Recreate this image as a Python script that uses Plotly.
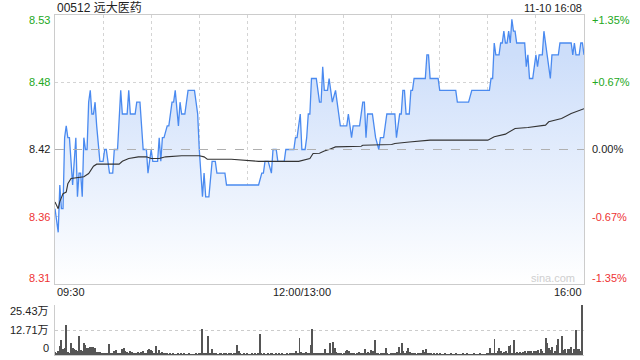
import plotly.graph_objects as go

# ---------------- data ----------------
prev_close = 8.42
title_text = "00512 远大医药"
stamp_text = "11-10 16:08"

price_min = [0, 2, 3, 4, 5, 6, 7, 8, 9, 11, 13, 14, 15, 16, 17, 18, 19, 20, 21, 22, 23, 24, 25, 26, 28, 30,
             31, 32, 34, 36, 37, 39, 41, 42, 45, 46, 47, 50, 51, 53, 54, 55, 57, 58, 60, 61, 64, 65, 66, 67,
             68, 70, 71, 73, 74, 75, 77, 78, 79, 81, 83, 87, 89, 90, 92, 93, 94, 96, 98, 100, 101, 106, 107,
             127, 129, 130, 131, 133, 135, 136, 138, 139, 143, 144, 149, 150, 151, 152, 153, 154, 156, 157,
             158, 159, 160, 163, 165, 166, 167, 168, 170, 171, 172, 173, 175, 176, 178, 182, 183, 185, 186,
             190, 192, 193, 194, 195, 198, 200, 202, 203, 205, 207, 212, 213, 215, 216, 217, 218, 219, 221,
             222, 223, 224, 231, 232, 233, 234, 239, 240, 250, 251, 258, 260, 271, 272, 273, 274, 275, 277,
             278, 279, 280, 281, 282, 283, 284, 285, 286, 287, 288, 293, 294, 295, 296, 298, 299, 300, 301,
             302, 304, 305, 307, 309, 310, 314, 315, 322, 323, 324, 325, 327, 328, 329, 330]
price_val = [8.37, 8.35, 8.39, 8.37, 8.37, 8.43, 8.44, 8.43, 8.43, 8.39, 8.43, 8.38, 8.40, 8.40, 8.38, 8.43,
             8.42, 8.42, 8.46, 8.47, 8.45, 8.45, 8.46, 8.44, 8.41, 8.41, 8.42, 8.42, 8.40, 8.40, 8.42, 8.42,
             8.47, 8.45, 8.45, 8.47, 8.45, 8.45, 8.46, 8.46, 8.44, 8.42, 8.42, 8.40, 8.42, 8.41, 8.41, 8.43,
             8.41, 8.43, 8.43, 8.44, 8.44, 8.46, 8.46, 8.47, 8.44, 8.46, 8.45, 8.45, 8.47, 8.47, 8.45, 8.42,
             8.38, 8.40, 8.38, 8.38, 8.41, 8.41, 8.40, 8.40, 8.39, 8.39, 8.40, 8.40, 8.41, 8.41, 8.40, 8.42,
             8.42, 8.41, 8.41, 8.42, 8.42, 8.43, 8.43, 8.44, 8.45, 8.42, 8.42, 8.43, 8.45, 8.45, 8.48, 8.48,
             8.46, 8.46, 8.49, 8.47, 8.47, 8.48, 8.47, 8.46, 8.47, 8.46, 8.44, 8.44, 8.45, 8.43, 8.44, 8.44,
             8.46, 8.46, 8.43, 8.45, 8.45, 8.43, 8.42, 8.43, 8.43, 8.45, 8.45, 8.43, 8.45, 8.45, 8.47, 8.47,
             8.45, 8.45, 8.47, 8.47, 8.48, 8.48, 8.50, 8.50, 8.48, 8.48, 8.47, 8.47, 8.46, 8.46, 8.47, 8.47,
             8.48, 8.48, 8.51, 8.50, 8.50, 8.51, 8.51, 8.52, 8.51, 8.51, 8.52, 8.51, 8.53, 8.52, 8.52, 8.51,
             8.51, 8.49, 8.50, 8.48, 8.48, 8.49, 8.50, 8.49, 8.50, 8.50, 8.52, 8.50, 8.48, 8.50, 8.50, 8.51,
             8.51, 8.50, 8.51, 8.50, 8.50, 8.51, 8.51, 8.50]

avg_min = [0, 2, 3, 5, 7, 8, 10, 13, 18, 21, 24, 26, 40, 42, 46, 52, 57, 60, 65, 69, 79, 90, 93, 95, 110,
           127, 152, 159, 161, 165, 168, 171, 175, 191, 192, 210, 212, 221, 228, 234, 270, 274, 281, 287,
           295, 306, 308, 316, 322, 329, 330]
avg_val = [8.3756, 8.370, 8.376, 8.3827, 8.384, 8.391, 8.3955, 8.3963, 8.397, 8.3997, 8.4059, 8.4076,
           8.4076, 8.410, 8.4124, 8.4138, 8.4138, 8.4124, 8.4124, 8.4138, 8.4147, 8.4147, 8.4138, 8.4118,
           8.4118, 8.410, 8.410, 8.4124, 8.4166, 8.4168, 8.4188, 8.420, 8.4222, 8.4228, 8.4236, 8.4242,
           8.4251, 8.4264, 8.427, 8.4279, 8.4279, 8.4307, 8.433, 8.4378, 8.4386, 8.4406, 8.4434, 8.4462,
           8.4505, 8.4539, 8.4545]

# volume per minute (万股), minute 0 .. 330
volume = [
    1.7, 1.2, 2.0, 4.6, 7.6, 3.0, 3.4, 15.3, 1.7, 0.9,
    6.3, 3.4, 2.9, 2.5, 2.2, 9.7, 2.5, 2.2, 5.9, 5.1,
    3.4, 3.7, 3.9, 3.9, 3.9, 3.7, 1.7, 1.5, 1.7, 1.2,
    1.2, 0.8, 0.6, 0.9, 5.6, 1.2, 0.8, 1.9, 2.5, 1.2,
    0.8, 1.0, 2.9, 3.7, 2.2, 1.7, 0.9, 2.0, 1.5, 0.8,
    1.2, 1.2, 1.4, 1.0, 1.5, 1.9, 1.2, 0.8, 2.5, 3.0,
    2.5, 2.2, 0.9, 4.6, 1.2, 2.5, 0.8, 1.7, 1.2, 0.8,
    0.6, 0.5, 0.7, 0.5, 0.6, 0.5, 0.4, 0.6, 0.5, 0.7,
    0.5, 0.6, 0.4, 0.5, 0.6, 0.5, 0.4, 0.5, 0.6, 0.5,
    0.7, 0.8, 13.1, 0.8, 0.8, 1.0, 9.7, 1.2, 2.9, 0.7,
    0.8, 0.6, 0.5, 0.7, 0.6, 0.5, 0.8, 0.6, 0.5, 0.6,
    0.7, 0.5, 0.6, 1.0, 5.1, 2.2, 0.6, 0.5, 0.7, 0.5,
    0.6, 0.5, 0.4, 0.6, 0.5, 0.7, 0.5, 0.8, 10.7, 0.6,
    0.5, 0.6, 0.5, 0.7, 0.5, 0.6, 0.8, 0.5, 0.6, 0.5,
    0.7, 0.5, 0.6, 0.5, 0.4, 0.6, 0.5, 0.7, 0.6, 1.2,
    0.8, 2.0, 0.9, 8.5, 1.7, 0.8, 1.2, 1.5, 0.7, 0.9,
    5.1, 13.1, 1.2, 0.8, 1.2, 0.9, 0.7, 0.8, 1.0, 2.9,
    0.8, 0.9, 5.9, 0.7, 6.8, 3.4, 1.7, 0.8, 0.6, 0.7,
    0.5, 0.8, 2.2, 2.5, 2.2, 0.8, 0.6, 0.7, 0.5, 0.9,
    1.5, 0.6, 0.8, 0.7, 2.9, 0.6, 1.7, 0.8, 2.5, 2.2,
    7.6, 0.8, 0.6, 0.5, 0.7, 0.6, 0.8, 3.4, 0.6, 0.5,
    0.6, 0.7, 0.8, 0.6, 1.7, 3.9, 0.9, 6.3, 2.0, 0.7,
    2.2, 3.4, 1.7, 0.8, 0.6, 0.7, 0.5, 0.6, 0.8, 0.7,
    2.5, 1.7, 2.9, 0.8, 0.6, 0.7, 0.5, 0.6, 0.5, 0.7,
    0.5, 0.6, 0.4, 0.5, 0.6, 0.5, 0.4, 0.5, 0.6, 0.4,
    0.5, 0.6, 0.5, 0.4, 0.5, 0.6, 0.4, 0.5, 0.6, 0.5,
    0.4, 0.5, 0.6, 0.5, 0.4, 0.5, 0.6, 0.5, 0.4, 0.5,
    0.6, 0.8, 3.4, 0.7, 0.9, 8.0, 0.8, 2.2, 3.4, 2.0,
    0.9, 1.7, 2.0, 0.8, 4.6, 5.1, 0.9, 7.6, 0.8, 1.4,
    0.9, 1.5, 0.9, 1.7, 1.9, 0.8, 2.2, 2.2, 1.9, 0.9,
    2.2, 2.0, 2.5, 1.2, 2.9, 2.2, 0.9, 8.5, 5.9, 3.4,
    2.5, 4.2, 0.9, 2.2, 5.1, 8.0, 0.9, 9.7, 2.5, 2.9,
    0.9, 2.9, 2.9, 4.2, 0.9, 2.9, 12.7, 2.9, 2.9, 2.2,
    25.43,
]
vol_minutes = list(range(len(volume)))

price_labels = ["8.53", "8.48", "8.42", "8.36", "8.31"]
pct_labels = ["+1.35%", "+0.67%", "0.00%", "-0.67%", "-1.35%"]
label_colors = ["#22a822", "#22a822", "#222222", "#ee3333", "#ee3333"]
vol_labels = ["25.43万", "12.71万", "0"]
time_labels = ["09:30", "12:00/13:00", "16:00"]

# ---------------- geometry helpers ----------------
W, H = 640, 360
L, R, T, B = 55, 584, 15, 355
half = prev_close * 0.0135
ymin, ymax = prev_close - half, prev_close + half
vmax = max(volume)

def px(x):
    return (x - L) / (R - L)

def py(y):
    return (B - y) / (B - T)

FONT = "Liberation Sans, Arial, Noto Sans CJK SC, sans-serif"

fig = go.Figure()

# baseline for the gradient fill
fig.add_trace(go.Scatter(x=[0, 330], y=[ymin, ymin], mode="lines",
                         line=dict(width=0, color="rgba(0,0,0,0)"),
                         hoverinfo="skip", showlegend=False, xaxis="x", yaxis="y"))
fig.add_trace(go.Scatter(x=price_min, y=price_val, mode="lines",
                         line=dict(color="#4a8af0", width=1.3),
                         fill="tonexty",
                         fillgradient=dict(type="vertical", start=ymin, stop=8.50,
                                           colorscale=[[0, "rgba(255,255,255,1)"],
                                                       [1, "rgba(205,222,250,1)"]]),
                         showlegend=False, xaxis="x", yaxis="y"))
fig.add_trace(go.Scatter(x=avg_min, y=avg_val, mode="lines",
                         line=dict(color="#333333", width=1.1),
                         showlegend=False, xaxis="x", yaxis="y"))
fig.add_trace(go.Bar(x=vol_minutes, y=volume, width=0.6,
                     marker=dict(color="#555555", line=dict(width=0)),
                     showlegend=False, xaxis="x2", yaxis="y2"))

main_dom = [py(284), 1.0]
vol_dom = [0.0, py(305)]

fig.update_layout(
    width=W, height=H,
    margin=dict(l=L, r=W - R, t=T, b=H - B),
    paper_bgcolor="white", plot_bgcolor="white",
    font=dict(family=FONT, size=11, color="#222"),
    bargap=0,
    xaxis=dict(range=[0, 330], tick0=0, dtick=30, showticklabels=False,
               showgrid=True, gridcolor="#d4d4d4", griddash="dot", gridwidth=1,
               showline=True, linecolor="#cccccc", linewidth=1, mirror=True,
               zeroline=False, ticks="", anchor="y"),
    yaxis=dict(domain=main_dom, range=[ymin, ymax],
               tickvals=[prev_close - half / 2, prev_close + half / 2],
               showticklabels=False, showgrid=True, gridcolor="#d4d4d4", griddash="dot",
               showline=True, linecolor="#cccccc", linewidth=1, mirror=True,
               zeroline=False, ticks=""),
    xaxis2=dict(range=[0, 331], showticklabels=False, showgrid=False,
                showline=True, linecolor="#cccccc", zeroline=False, ticks="", anchor="y2"),
    yaxis2=dict(domain=vol_dom, range=[0, vmax],
                tickvals=[vmax / 2, vmax], showticklabels=False,
                showgrid=True, gridcolor="#cccccc", griddash="dot",
                showline=True, linecolor="#cccccc", zeroline=False, ticks=""),
)

# dashed previous-close line
fig.add_shape(type="line", xref="x", yref="y", x0=0, x1=330, y0=prev_close, y1=prev_close,
              line=dict(color="#b0b0b0", width=1, dash="dash"))

ann = []
# title and timestamp
ann.append(dict(x=px(55), y=py(8), text=title_text, xanchor="left", yanchor="middle",
                font=dict(size=12, color="#222", family="Liberation Sans, Noto Sans CJK SC")))
ann.append(dict(x=px(584), y=py(8), text=stamp_text, xanchor="right", yanchor="middle",
                font=dict(size=11, color="#222")))
# price / percent labels
ys = [20, 82, 149, 217, 278]
for t, p, c, yy in zip(price_labels, pct_labels, label_colors, ys):
    ann.append(dict(x=px(52), y=py(yy), text=t, xanchor="right", yanchor="middle",
                    font=dict(size=11, color=c)))
    ann.append(dict(x=px(590), y=py(yy), text=p, xanchor="left", yanchor="middle",
                    font=dict(size=11, color=c)))
# time labels
ann.append(dict(x=px(55), y=py(292), text=time_labels[0], xanchor="left", yanchor="middle",
                font=dict(size=11, color="#222")))
ann.append(dict(x=px(302), y=py(292), text=time_labels[1], xanchor="center", yanchor="middle",
                font=dict(size=11, color="#222")))
ann.append(dict(x=px(584), y=py(292), text=time_labels[2], xanchor="right", yanchor="middle",
                font=dict(size=11, color="#222")))
# volume labels
for t, yy in zip(vol_labels, [311, 330, 348]):
    ann.append(dict(x=px(51), y=py(yy), text=t, xanchor="right", yanchor="middle",
                    font=dict(size=11, color="#222", family="Liberation Sans, Noto Sans CJK SC")))
# watermark
ann.append(dict(x=px(553), y=py(278), text="sina.com", xanchor="center", yanchor="middle",
                font=dict(size=11, color="#cfcfcf")))

for a in ann:
    a.update(xref="paper", yref="paper", showarrow=False)
fig.update_layout(annotations=ann)

fig.write_html("out.html")
